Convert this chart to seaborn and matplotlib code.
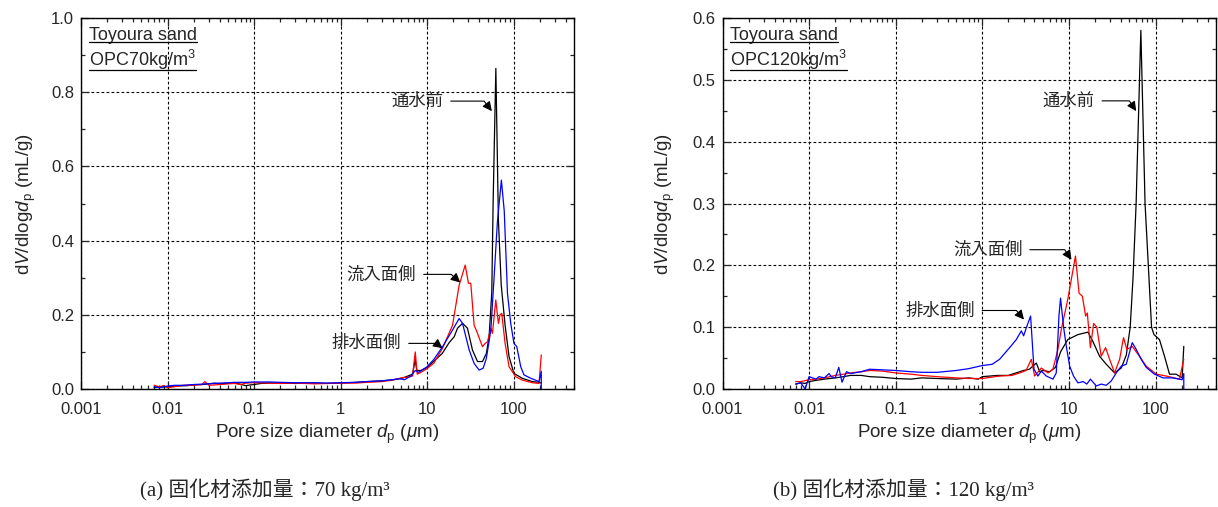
import pandas as pd
import matplotlib
matplotlib.use("Agg")
import matplotlib.pyplot as plt
from matplotlib.ticker import FixedLocator, LogLocator, MultipleLocator, NullFormatter, FuncFormatter
from matplotlib.lines import Line2D
import seaborn as sns

# ---- (a) OPC 70 kg/m3 ----
d70_before = [0.007, 0.008, 0.01, 0.013, 0.017, 0.02, 0.025, 0.03, 0.035, 0.04, 0.05, 0.06, 0.07, 0.08,
              0.09, 0.1, 0.12, 0.15, 0.2, 0.3, 0.5, 0.7, 1, 1.5, 2, 3, 4, 5, 6, 6.8, 7.3, 7.6, 8.5, 10, 12,
              15, 18, 20.6, 22.5, 25.7, 29.3, 33.5, 38.3, 43.7, 48.5, 52.1, 56, 58, 62.4, 66.8, 72, 79.8,
              88.7, 101, 126, 165, 197, 209]
v70_before = [0.004, 0.005, 0.006, 0.008, 0.009, 0.012, 0.012, 0.014, 0.016, 0.014, 0.015, 0.016, 0.013,
              0.009, 0.011, 0.012, 0.015, 0.016, 0.016, 0.015, 0.016, 0.015, 0.016, 0.018, 0.02, 0.022,
              0.025, 0.028, 0.035, 0.04, 0.08, 0.05, 0.05, 0.058, 0.075, 0.096, 0.125, 0.141, 0.164, 0.177,
              0.164, 0.105, 0.074, 0.074, 0.096, 0.141, 0.26, 0.5, 0.864, 0.455, 0.28, 0.172, 0.087, 0.042,
              0.029, 0.02, 0.018, 0.016]

d70_inflow = [0.007, 0.008, 0.009, 0.01, 0.012, 0.015, 0.02, 0.025, 0.027, 0.03, 0.04, 0.05, 0.06, 0.07,
              0.08, 0.1, 0.15, 0.2, 0.3, 0.5, 0.7, 1, 1.5, 2, 3, 4, 5, 6, 6.8, 7.3, 7.7, 8.5, 10, 12, 15.1,
              19.7, 23.5, 27.6, 30.1, 32, 35, 38.3, 43.7, 46.9, 49.9, 54.6, 57, 62.3, 66.8, 69.8, 73, 79.8,
              88.7, 106, 126, 165, 197, 209]
v70_inflow = [0.01, 0.006, 0.009, 0.004, 0.006, 0.01, 0.01, 0.012, 0.02, 0.01, 0.012, 0.014, 0.015, 0.012,
              0.016, 0.017, 0.016, 0.015, 0.016, 0.014, 0.015, 0.016, 0.016, 0.018, 0.02, 0.024, 0.03,
              0.032, 0.035, 0.10, 0.04, 0.045, 0.055, 0.07, 0.11, 0.172, 0.28, 0.334, 0.285, 0.285, 0.172,
              0.15, 0.114, 0.123, 0.127, 0.164, 0.15, 0.24, 0.177, 0.2, 0.204, 0.123, 0.06, 0.033, 0.024,
              0.017, 0.015, 0.092]

d70_drain = [0.007, 0.008, 0.01, 0.012, 0.015, 0.02, 0.03, 0.04, 0.05, 0.06, 0.08, 0.1, 0.15, 0.2, 0.3,
             0.5, 0.7, 1, 1.5, 2, 3, 4, 4.8, 5.5, 6.5, 7.3, 8, 10, 12, 15.1, 19.7, 23.5, 25.7, 30.7, 35,
             40, 44.5, 48.5, 54.6, 59.6, 65, 72.3, 78, 85, 92.7, 101, 109, 121, 132, 158, 197, 209, 209]
v70_drain = [0.006, 0.004, 0.008, 0.01, 0.01, 0.012, 0.014, 0.016, 0.017, 0.018, 0.018, 0.019, 0.019,
             0.018, 0.017, 0.017, 0.016, 0.017, 0.018, 0.02, 0.022, 0.025, 0.028, 0.025, 0.035, 0.05,
             0.045, 0.06, 0.08, 0.114, 0.159, 0.19, 0.177, 0.105, 0.069, 0.051, 0.056, 0.083, 0.159,
             0.303, 0.45, 0.563, 0.48, 0.258, 0.177, 0.123, 0.114, 0.06, 0.038, 0.029, 0.02, 0.048, 0.0]

# ---- (b) OPC 120 kg/m3 ----
d120_before = [0.007, 0.008, 0.009, 0.01, 0.012, 0.015, 0.02, 0.025, 0.03, 0.04, 0.05, 0.07, 0.1, 0.15,
               0.2, 0.3, 0.5, 0.7, 0.9, 1, 1.5, 2, 3, 3.5, 4.2, 4.6, 5, 6, 7, 8, 9.7, 12.7, 16.6, 18.9,
               22.6, 27, 33.7, 40.2, 46, 51, 55, 59.7, 67.7, 75.7, 90, 96, 111, 127, 145, 173,
               203, 212]
v120_before = [0.008, 0.01, 0.009, 0.012, 0.014, 0.016, 0.018, 0.02, 0.022, 0.022, 0.02, 0.019, 0.017,
               0.016, 0.018, 0.017, 0.016, 0.018, 0.016, 0.02, 0.022, 0.022, 0.03, 0.032, 0.042, 0.028,
               0.03, 0.028, 0.035, 0.06, 0.08, 0.088, 0.092, 0.077, 0.053, 0.04, 0.026, 0.034, 0.055,
               0.1, 0.18, 0.3, 0.58, 0.3, 0.1, 0.088, 0.08, 0.053, 0.024, 0.024, 0.018, 0.069]

d120_inflow = [0.007, 0.008, 0.01, 0.012, 0.015, 0.02, 0.025, 0.03, 0.04, 0.05, 0.07, 0.1, 0.15, 0.2, 0.3,
               0.5, 0.7, 1, 1.58, 2.2, 2.7, 3.2, 3.68, 4.02, 4.8, 5.73, 6.54, 7.46, 8.16, 9.7, 11.9, 13.1,
               14.3, 15.6, 16.3, 17.7, 19.3, 21, 23.6, 26.5, 29.5, 33.7, 38.5, 42.7, 46.7, 53.8, 65.3,
               78.1, 102, 133, 189, 212]
v120_inflow = [0.012, 0.012, 0.015, 0.016, 0.018, 0.022, 0.024, 0.026, 0.028, 0.03, 0.029, 0.026, 0.024,
               0.022, 0.02, 0.018, 0.017, 0.017, 0.021, 0.022, 0.026, 0.03, 0.048, 0.021, 0.034, 0.026,
               0.032, 0.064, 0.096, 0.145, 0.215, 0.155, 0.15, 0.118, 0.123, 0.067, 0.106, 0.1, 0.053,
               0.067, 0.048, 0.026, 0.048, 0.083, 0.064, 0.069, 0.053, 0.037, 0.024, 0.021, 0.016, 0.048]

d120_drain = [0.007, 0.008, 0.009, 0.01, 0.012, 0.013, 0.015, 0.017, 0.018, 0.02, 0.022, 0.024, 0.027,
              0.03, 0.04, 0.05, 0.07, 0.1, 0.15, 0.2, 0.3, 0.5, 0.7, 1, 1.3, 1.58, 2.07, 2.47, 2.82, 3.0,
              3.22, 3.61, 3.95, 4.39, 4.8, 5.48, 6.54, 7.14, 7.67, 8.0, 8.68, 9.33, 10.2, 11.3, 12.7,
              14.6, 16.1, 17.7, 20.7, 23.6, 27, 30.8, 35.2, 40.2, 45.9, 53.8, 59.9, 68.4, 78.1, 97.3,
              122, 158, 203, 212, 212]
v120_drain = [0.008, 0.01, 0.0, 0.02, 0.016, 0.02, 0.018, 0.025, 0.02, 0.018, 0.035, 0.011, 0.028, 0.025,
              0.028, 0.032, 0.031, 0.03, 0.028, 0.027, 0.027, 0.03, 0.033, 0.038, 0.04, 0.048, 0.067,
              0.08, 0.094, 0.086, 0.099, 0.118, 0.032, 0.021, 0.029, 0.021, 0.016, 0.026, 0.118, 0.147,
              0.1, 0.069, 0.037, 0.021, 0.01, 0.012, 0.008, 0.016, 0.005, 0.008, 0.006, 0.013, 0.026,
              0.037, 0.04, 0.075, 0.064, 0.048, 0.035, 0.024, 0.018, 0.018, 0.015, 0.025, 0.0]

series_names = ["通水前", "流入面側", "排水面側"]
colores = {"通水前": "black", "流入面側": "red", "排水面側": "blue"}

sns.set_style("ticks")
plt.rcParams["font.family"] = ["Liberation Sans", "Noto Sans CJK JP"]
plt.rcParams["mathtext.fontset"] = "custom"
plt.rcParams["mathtext.rm"] = "Liberation Sans"
plt.rcParams["mathtext.it"] = "Liberation Sans:italic"
plt.rcParams["mathtext.bf"] = "Liberation Sans:bold"


def monta_df(ds, vs):
    partes = []
    for nome, d, v in zip(series_names, ds, vs):
        partes.append(pd.DataFrame({"d": d, "v": v, "serie": nome}))
    return pd.concat(partes, ignore_index=True)


fig = plt.figure(figsize=(12.18, 5.07), dpi=100)
ax1 = fig.add_axes([0.0665, 0.2327, 0.4048, 0.7318])
ax2 = fig.add_axes([0.5932, 0.2327, 0.4052, 0.7318])

paineis = [
    (ax1, monta_df([d70_before, d70_inflow, d70_drain], [v70_before, v70_inflow, v70_drain]),
     1.0, 0.2, 0.1, r"OPC70kg/m$^3$", -0.088),
    (ax2, monta_df([d120_before, d120_inflow, d120_drain], [v120_before, v120_inflow, v120_drain]),
     0.6, 0.1, 0.05, r"OPC120kg/m$^3$", -0.093),
]

for ax, df, ymax, ymaj, ymin, opc, ylab_x in paineis:
    sns.lineplot(data=df, x="d", y="v", hue="serie", palette=colores, estimator=None, sort=False,
                 linewidth=0.9, legend=False, ax=ax)
    ax.set_xscale("log")
    ax.set_xlim(0.001, 500)
    ax.set_ylim(0, ymax)
    ax.xaxis.set_major_locator(FixedLocator([0.001, 0.01, 0.1, 1, 10, 100]))
    ax.xaxis.set_major_formatter(FuncFormatter(lambda x, p: f"{x:g}"))
    ax.xaxis.set_minor_locator(LogLocator(base=10, subs=range(2, 10), numticks=20))
    ax.xaxis.set_minor_formatter(NullFormatter())
    ax.yaxis.set_major_locator(MultipleLocator(ymaj))
    ax.yaxis.set_minor_locator(MultipleLocator(ymin))
    ax.yaxis.set_major_formatter(FuncFormatter(lambda y, p: f"{y:.1f}"))
    ax.tick_params(which="both", direction="in", top=True, right=True, labelsize=12, width=0.9)
    ax.tick_params(which="major", length=6)
    ax.tick_params(which="minor", length=3)
    ax.tick_params(axis="x", which="major", pad=9)
    ax.tick_params(axis="y", which="major", pad=5)
    for s in ax.spines.values():
        s.set_linewidth(1.0)
        s.set_color("black")
    ax.grid(True, which="major", color="black", linestyle=(0, (2.5, 2)), linewidth=0.8)
    ax.set_xlabel(r"Pore size diameter $d_\mathrm{p}$ ($\mu$m)", fontsize=13.5)
    ax.set_ylabel(r"d$V$/dlog$d_\mathrm{p}$ (mL/g)", fontsize=13.5)
    ax.xaxis.set_label_coords(0.5, -0.09)
    ax.yaxis.set_label_coords(ylab_x, 0.5)
    ax.text(0.016, 0.954, "Toyoura sand", transform=ax.transAxes, fontsize=13, va="center", ha="left")
    ax.text(0.016, 0.887, opc, transform=ax.transAxes, fontsize=13, va="center", ha="left")

# arrows: (label, tip x, tip y, text x, text y, angle)
setas70 = [("通水前", 56.1, 0.749, 15.4, 0.776, 127.6),
           ("流入面側", 24.2, 0.287, 7.5, 0.309, 137.9),
           ("排水面側", 15.1, 0.110, 5.03, 0.123, 142.9)]
setas120 = [("通水前", 59.8, 0.4495, 19.8, 0.466, 123.8),
            ("流入面側", 10.7, 0.209, 2.90, 0.2253, 123.8),
            ("排水面側", 3.03, 0.1124, 0.817, 0.127, 130.2)]

for ax, setas in [(ax1, setas70), (ax2, setas120)]:
    for nome, xt, yt, xl, yl, ang in setas:
        ax.annotate(nome, xy=(xt, yt), xytext=(xl, yl), ha="right", va="center", fontsize=12.5,
                    arrowprops=dict(arrowstyle="-|>", color="black", lw=0.8, shrinkA=3, shrinkB=0,
                                    mutation_scale=14,
                                    connectionstyle=f"angle,angleA=0,angleB={ang},rad=0"))

# underline the sample labels
fig.canvas.draw()
renderer = fig.canvas.get_renderer()
for ax in (ax1, ax2):
    for t in ax.texts:
        if t.get_text().startswith(("Toyoura", "OPC")):
            bb = t.get_window_extent(renderer).transformed(fig.transFigure.inverted())
            fig.add_artist(Line2D([bb.x0, bb.x1], [bb.y0 + 0.003, bb.y0 + 0.003], color="black",
                                  lw=0.9, transform=fig.transFigure))

cap_font = ["Liberation Serif", "Noto Sans CJK JP"]
fig.text(0.2176, 0.0335, "(a) 固化材添加量：70 kg/m³", ha="center", va="center", fontsize=15, family=cap_font)
fig.text(0.742, 0.0335, "(b) 固化材添加量：120 kg/m³", ha="center", va="center", fontsize=15, family=cap_font)

fig.savefig("out.png", dpi=100)
